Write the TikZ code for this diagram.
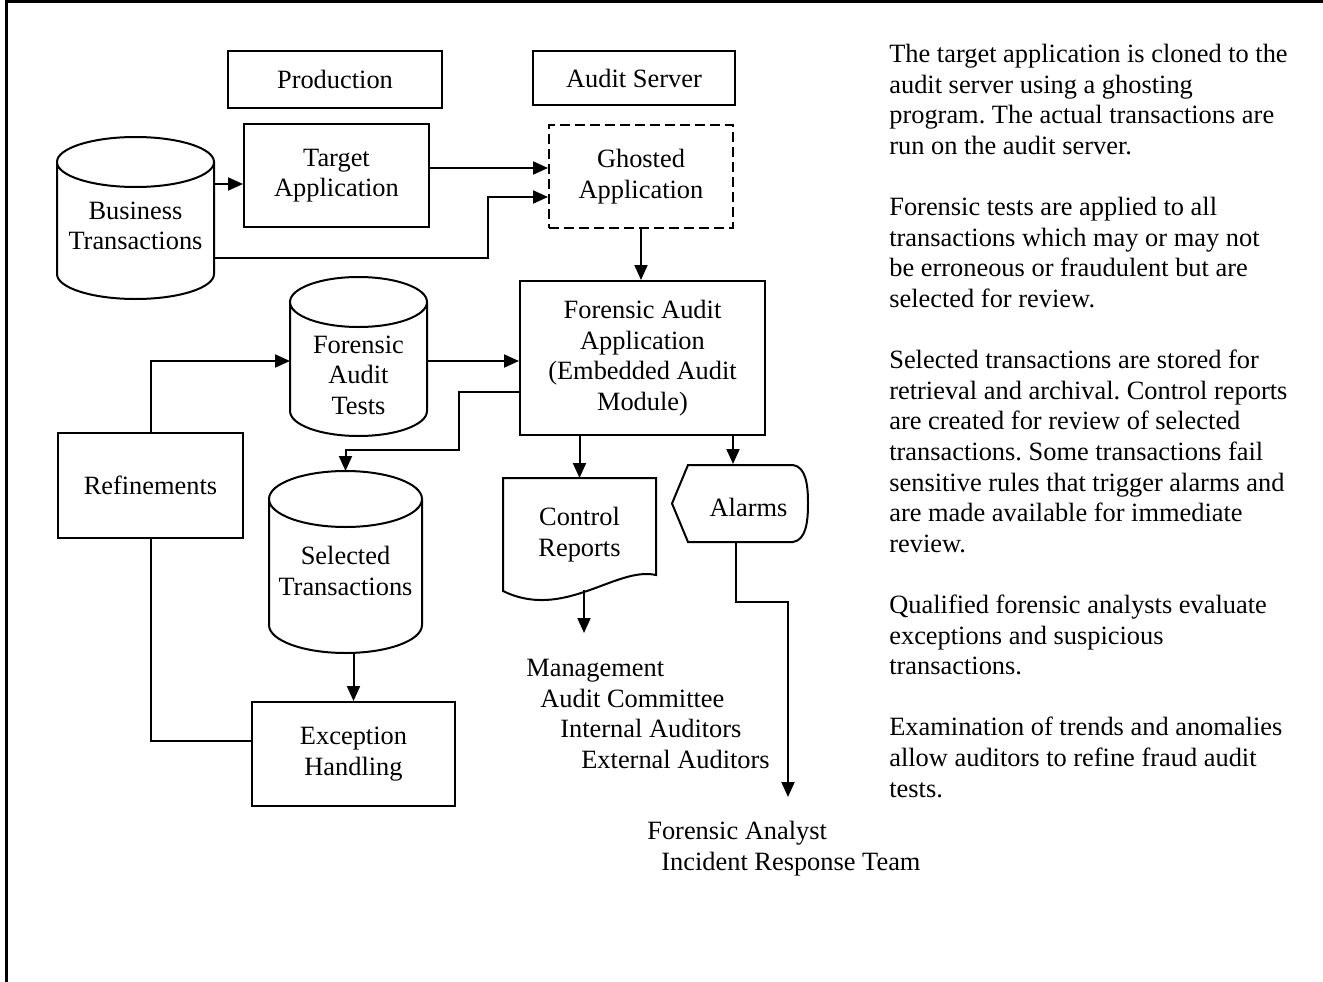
\documentclass[tikz,border=0pt]{standalone}
\usepackage{fontspec}
\setmainfont{Liberation Serif}
\frenchspacing
\usetikzlibrary{arrows.meta}
\usetikzlibrary{calc}
\tikzset{arr/.style = {-{Triangle[length=15pt, width=13pt]}},
         box/.style = {draw, align=center, inner sep=0pt},
         drum/.style = {inner sep=0pt}}
\newcommand{\drumedge}[2]{%
  \draw let \p1 = (#1.north west), \p2 = (#1.south east) in
    (\x1, \y1-#2pt) -- (\x1, \y2+#2pt)
    arc [start angle=180, end angle=360, x radius={(\x2-\x1)/2}, y radius=#2pt]
    -- (\x2, \y1-#2pt)
    arc [start angle=0, end angle=360, x radius={(\x2-\x1)/2}, y radius=#2pt];}

\begin{document}
\begin{tikzpicture}[x=1pt, y=-1pt, line width=2pt, font=\fontsize{26.4}{30.5}\selectfont]
    \useasboundingbox (0,0) rectangle (1323,982);
    \draw [line width=3pt] (6,982) -- (6,2) -- (1323,2);

    % headings
    \node [box, minimum width=214pt, minimum height=57pt] (prod) at (335,79.5) {Production};
    \node [box, minimum width=202pt, minimum height=54pt] (srv) at (634,78) {Audit Server};

    % applications
    \node [box, minimum width=185pt, minimum height=103pt] (target) at (336.5,175.5) {Target\\Application};
    \node [box, dash pattern=on 10pt off 5pt, minimum width=184pt, minimum height=103pt] (ghost) at (641,176.5) {Ghosted\\Application};
    \node [box, minimum width=245pt, minimum height=154pt] (faa) at (642.5,358) {Forensic Audit\\Application\\(Embedded Audit\\Module)};
    \node [box, minimum width=185pt, minimum height=105pt] (ref) at (150.5,485.5) {Refinements};
    \node [box, minimum width=203pt, minimum height=104pt] (exc) at (353.5,754) {Exception\\Handling};

    % data stores
    \node [drum, minimum width=155pt, minimum height=160pt,
           label={[yshift=-8pt, align=center]center:Business\\Transactions}] (bus) at (135.5,218) {};
    \node [drum, minimum width=135pt, minimum height=157pt,
           label={[yshift=-18.5pt, align=center]center:Forensic\\Audit\\Tests}] (tests) at (358.5,356.5) {};
    \node [drum, minimum width=151pt, minimum height=180pt,
           label={[yshift=-9pt, align=center]center:Selected\\Transactions}] (sel) at (345.5,562) {};
    \drumedge{bus}{25}
    \drumedge{tests}{25}
    \drumedge{sel}{28}

    % report and alarm
    \node [drum, align=center, minimum width=151pt, minimum height=111pt] (rep) at (579.5,534.5) {Control\\Reports};
    \draw (rep.north west) -- (rep.north east) -- ([yshift=16pt]rep.south east)
      .. controls ([xshift=-40pt, yshift=25pt]rep.south east) and ([xshift=61pt, yshift=-30pt]rep.south west) .. (rep.south west) -- cycle;
    \node (alarm) at (748.5,507) {Alarms};
    \draw (672,503.5) -- (688,465) -- (793,465) .. controls (806,467) and (808,485) .. (808,503.5)
      .. controls (808,522) and (806,540) .. (793,542) -- (688,542) -- cycle;

    % receivers
    \node [anchor=base west, align=left] (board) at (522,768) {Management\\\hspace*{14pt}Audit Committee\\\hspace*{34pt}Internal Auditors\\\hspace*{55pt}External Auditors};
    \node [anchor=base west, align=left] (team) at (643,870) {Forensic Analyst\\\hspace*{14pt}Incident Response Team};

    % notes
    \node [anchor=base west, align=left, font=\fontsize{26.4}{30.6}\selectfont] (notes) at (885,797) {The target application is cloned to the\\audit server using a ghosting\\program. The actual transactions are\\run on the audit server.\\[30.6pt]Forensic tests are applied to all\\transactions which may or may not\\be erroneous or fraudulent but are\\selected for review.\\[30.6pt]Selected transactions are stored for\\retrieval and archival. Control reports\\are created for review of selected\\transactions. Some transactions fail\\sensitive rules that trigger alarms and\\are made available for immediate\\review.\\[30.6pt]Qualified forensic analysts evaluate\\exceptions and suspicious\\transactions.\\[30.6pt]Examination of trends and anomalies\\allow auditors to refine fraud audit\\tests.};

    % connectors
    \coordinate (tgin) at ([yshift=-8.5pt]target.west);
    \coordinate (tgout) at ([yshift=7.5pt]target.east);
    \coordinate (busout) at ([yshift=-40pt]bus.east);
    \coordinate (ghin) at ([yshift=-20.5pt]ghost.west);
    \coordinate (tsin) at ([yshift=-4.5pt]tests.west);
    \coordinate (tsout) at ([yshift=-4.5pt]tests.east);
    \coordinate (faaout) at ([yshift=-34pt]faa.west);
    \coordinate (alin) at (733,464);
    \coordinate (alout) at (736,542);
    \coordinate (repout) at (584,590);
    \coordinate (toboard) at (584,633);
    \coordinate (toteam) at (788,797);

    \draw [arr] (tgin -| bus.east) -- (tgin);
    \draw [arr] (tgout) -- (tgout -| ghost.west);
    \draw [arr] (busout) -- (488,258) |- (ghin);
    \draw [arr] (ghost.south) -- (ghost.south |- faa.north);
    \draw [arr] (tsout) -- (tsout -| faa.west);
    \draw [arr] (ref.north) |- (tsin);
    \draw [arr] (faaout) -| (459,450) -| (sel.north);
    \draw [arr] (faa.south -| rep.north) -- (rep.north);
    \draw [arr] (faa.south -| alin) -- (alin);
    \draw [arr] (repout) -- (toboard);
    \draw [arr] (alout) |- (788,602) -- (toteam);
    \draw [arr] (sel.south -| exc.north) -- (exc.north);
    \draw (ref.south) |- ([yshift=13pt]exc.west);
\end{tikzpicture}
\end{document}
